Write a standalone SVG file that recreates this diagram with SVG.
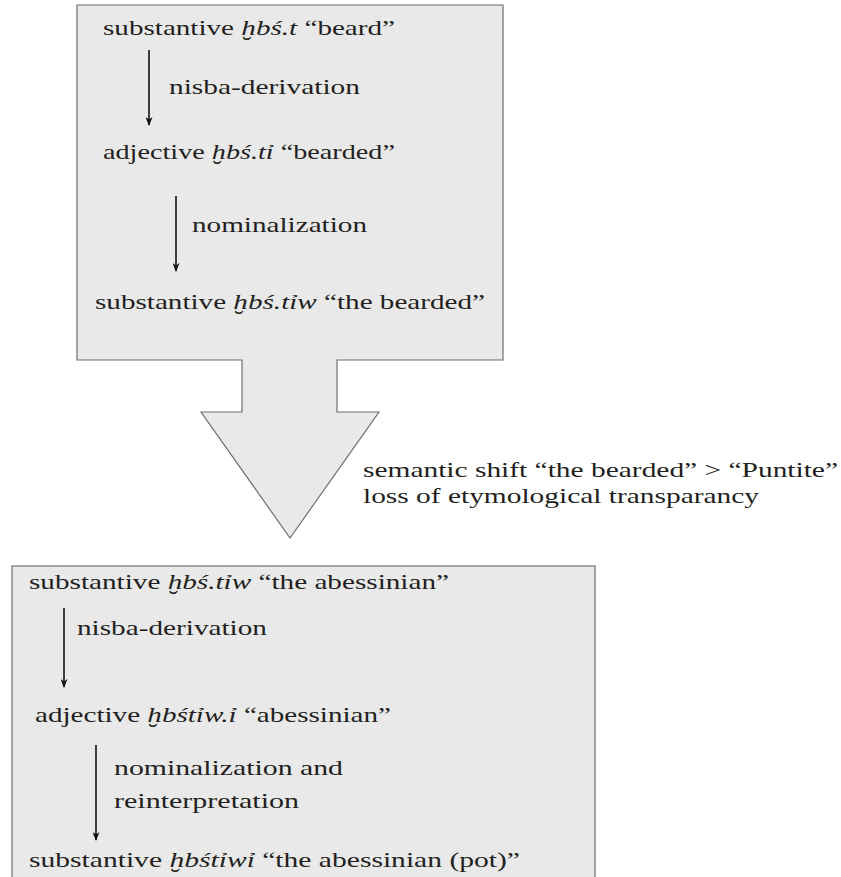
<svg xmlns="http://www.w3.org/2000/svg" width="841" height="877" viewBox="0 0 841 877">
<style>
.box{fill:#e9e9e9;stroke:#6f6f6f;stroke-width:1.2}
text{font-family:"Liberation Serif","DejaVu Serif",serif;font-size:22px;fill:#231f20}
.it{font-style:italic}
.con{stroke:#111;stroke-width:1.6;fill:none;marker-end:url(#ah)}
</style>
<defs>
<marker id="ah" markerWidth="9" markerHeight="7" refX="8" refY="3.5" orient="auto" markerUnits="userSpaceOnUse" viewBox="0 0 9 7">
<path d="M0,0 L9,3.5 L0,7 L2.5,3.5 Z" fill="#111"/>
</marker>
</defs>
<rect width="841" height="877" fill="#fff"/>
<g id="top-box">
<polygon class="box" points="77,5 503,5 503,360 337,360 337,412 379,412 290,538 201,412 242,412 242,360 77,360"/>
</g>
<g id="bottom-box">
<rect class="box" x="12" y="566" width="583" height="330"/>
</g>
<g id="n1"><text x="103" y="35" textLength="292" lengthAdjust="spacingAndGlyphs">substantive <tspan class="it">ḫbś.t</tspan> “beard”</text></g>
<g id="n2"><text x="103" y="159" textLength="292" lengthAdjust="spacingAndGlyphs">adjective <tspan class="it">ḫbś.tỉ</tspan> “bearded”</text></g>
<g id="n3"><text x="95" y="309" textLength="390" lengthAdjust="spacingAndGlyphs">substantive <tspan class="it">ḫbś.tỉw</tspan> “the bearded”</text></g>
<g id="shift-label">
<text x="363" y="477" textLength="475" lengthAdjust="spacingAndGlyphs">semantic shift “the bearded” &gt; “Puntite”</text>
<text x="363" y="503" textLength="396" lengthAdjust="spacingAndGlyphs">loss of etymological transparancy</text>
</g>
<g id="n4"><text x="29" y="589" textLength="420" lengthAdjust="spacingAndGlyphs">substantive <tspan class="it">ḫbś.tỉw</tspan> “the abessinian”</text></g>
<g id="n5"><text x="35" y="722" textLength="356" lengthAdjust="spacingAndGlyphs">adjective <tspan class="it">ḫbśtỉw.ỉ</tspan> “abessinian”</text></g>
<g id="n6"><text x="29" y="867" textLength="491" lengthAdjust="spacingAndGlyphs">substantive <tspan class="it">ḫbśtỉwỉ</tspan> “the abessinian (pot)”</text></g>
<g id="connectors">
<line class="con" x1="149" y1="50" x2="149" y2="125"/>
<text x="169" y="94" textLength="191" lengthAdjust="spacingAndGlyphs">nisba-derivation</text>
<line class="con" x1="176" y1="196" x2="176" y2="271"/>
<text x="192" y="232" textLength="175" lengthAdjust="spacingAndGlyphs">nominalization</text>
<line class="con" x1="64" y1="608" x2="64" y2="687"/>
<text x="77" y="635" textLength="190" lengthAdjust="spacingAndGlyphs">nisba-derivation</text>
<line class="con" x1="96" y1="745" x2="96" y2="840"/>
<text x="114" y="775" textLength="229" lengthAdjust="spacingAndGlyphs">nominalization and</text>
<text x="114" y="808" textLength="185" lengthAdjust="spacingAndGlyphs">reinterpretation</text>
</g>
</svg>
